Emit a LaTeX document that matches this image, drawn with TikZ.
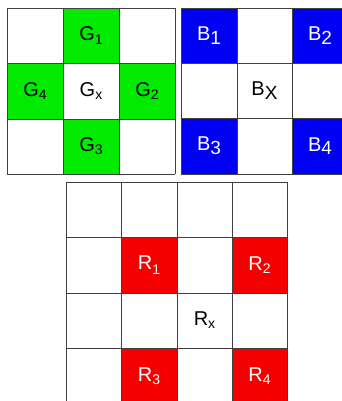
\documentclass[tikz,border=0pt]{standalone}
\usepackage{fontspec}
\setmainfont{Liberation Sans}
\definecolor{gG}{RGB}{0,235,0}
\definecolor{bB}{RGB}{0,0,245}
\definecolor{rR}{RGB}{245,0,0}
\tikzset{
  cellline/.style={draw=black!75, line width=0.8pt},
  lbl/.style={font=\fontsize{20}{20}\selectfont, inner sep=0pt},
}
\newcommand{\sbl}[1]{\raisebox{-0.45ex}{\fontsize{14}{14}\selectfont #1}}
\newcommand{\sbs}[1]{\raisebox{-0.3ex}{\fontsize{14}{14}\selectfont #1}}
\newcommand{\sbb}[1]{\raisebox{-0.35ex}{\fontsize{19}{19}\selectfont #1}}
\begin{document}
\begin{tikzpicture}[x=1pt,y=-1pt]
\useasboundingbox (0,0) rectangle (342,401);
\fill[white] (0,0) rectangle (342,401);
\begin{scope}
\clip (0,0) rectangle (342,401);
% green grid
\fill[gG] (63,8) rectangle (119,63);
\fill[gG] (7,63) rectangle (63,119);
\fill[gG] (119,63) rectangle (175,119);
\fill[gG] (63,119) rectangle (119,174);
\foreach \x in {7,63,119,175} \draw[cellline] (\x,8) -- (\x,174);
\foreach \y in {8,63,119,174} \draw[cellline] (7,\y) -- (175,\y);
\node[lbl] (g1) at (91,35.5) {G\sbl{1}};
\node[lbl] (g4) at (35,91) {G\sbs{4}};
\node[lbl] (gx) at (91,91) {G\sbs{x}};
\node[lbl] (g2) at (147,91) {G\sbs{2}};
\node[lbl] (g3) at (91,146.5) {G\sbs{3}};
% blue grid
\fill[bB] (181,8) rectangle (237,63);
\fill[bB] (292,8) rectangle (348,63);
\fill[bB] (181,118) rectangle (237,174);
\fill[bB] (292,118) rectangle (348,174);
\foreach \x in {181,237,292,348} \draw[cellline] (\x,8) -- (\x,174);
\foreach \y in {8,63,118,174} \draw[cellline] (181,\y) -- (348,\y);
\node[lbl,white] (b1) at (209,35.5) {B\sbb{1}};
\node[lbl,white] (b2) at (320,35.5) {B\sbb{2}};
\node[lbl] (bx) at (264.5,90.5) {B\sbb{X}};
\node[lbl,white] (b3) at (209,146) {B\sbb{3}};
\node[lbl,white] (b4) at (320,146) {B\sbb{4}};
% red grid
\fill[rR] (121,237) rectangle (177,293);
\fill[rR] (232,237) rectangle (287,293);
\fill[rR] (121,348) rectangle (177,404);
\fill[rR] (232,348) rectangle (287,404);
\foreach \x in {66,121,177,232,287} \draw[cellline] (\x,182) -- (\x,404);
\foreach \y in {182,237,293,348} \draw[cellline] (66,\y) -- (287,\y);
\node[lbl,white] (r1) at (149,265) {R\sbl{1}};
\node[lbl,white] (r2) at (259.5,265) {R\sbs{2}};
\node[lbl] (rx) at (204.5,320.5) {R\sbs{x}};
\node[lbl,white] (r3) at (149,376) {R\sbs{3}};
\node[lbl,white] (r4) at (259.5,376) {R\sbs{4}};
\end{scope}
\end{tikzpicture}
\end{document}
